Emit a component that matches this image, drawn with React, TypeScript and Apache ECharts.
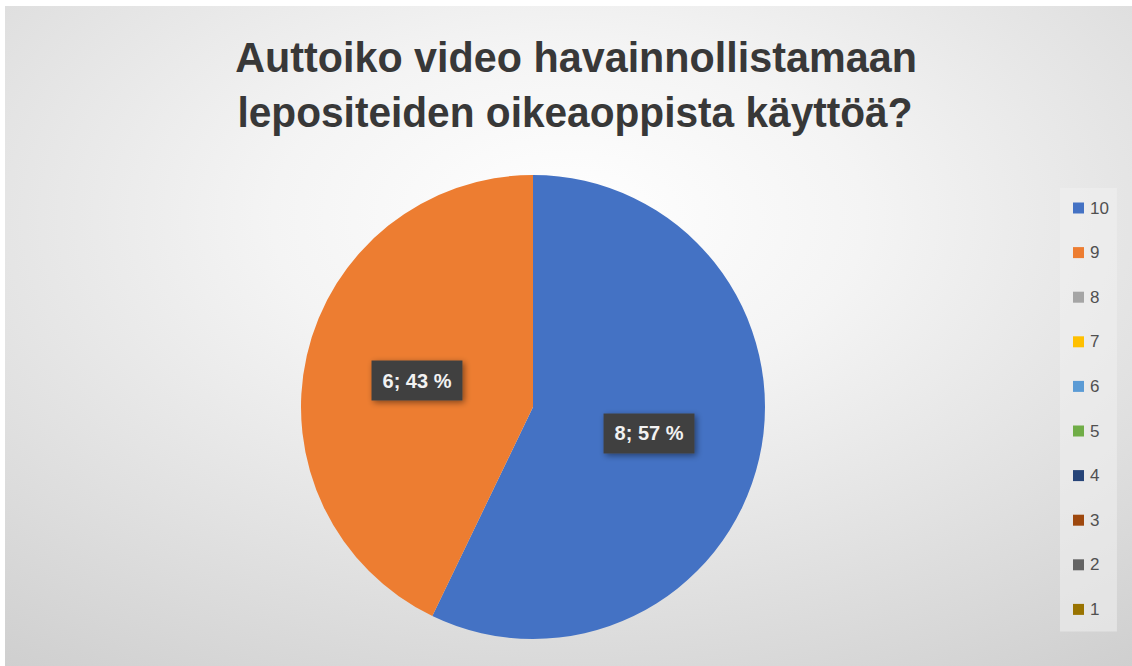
import React, { useEffect, useRef } from "react";
import * as echarts from "echarts";

const titleLines = ["Auttoiko video havainnollistamaan", "lepositeiden oikeaoppista käyttöä?"];
const categories = ["10", "9", "8", "7", "6", "5", "4", "3", "2", "1"];
const counts = [8, 6, 0, 0, 0, 0, 0, 0, 0, 0];
const sliceColors = ["#4472C4", "#ED7D31", "#A5A5A5", "#FFC000", "#5B9BD5", "#70AD47", "#264478", "#9E480E", "#636363", "#997300"];

const TITLE_FONT_SIZE = 43;
const TITLE_FONT = `bold ${TITLE_FONT_SIZE}px "Liberation Sans", Arial, sans-serif`;

function measure(text: string, font: string): number {
  const c = document.createElement("canvas");
  const ctx = c.getContext("2d");
  if (!ctx) return text.length * 20;
  ctx.font = font;
  return ctx.measureText(text).width;
}

export default function App() {
  const ref = useRef<HTMLDivElement>(null);

  useEffect(() => {
    if (!ref.current) return;
    const chart = echarts.init(ref.current, undefined, { renderer: "svg" });

    const targetWidths = [682, 675];
    const centersX = [576, 575];
    const baselinesY = [72, 127];

    const titleEls = titleLines.map((t, i) => {
      const w = measure(t, TITLE_FONT);
      const s = targetWidths[i] / w;
      return {
        type: "text",
        x: centersX[i],
        y: baselinesY[i] - TITLE_FONT_SIZE * 0.35,
        scaleX: s,
        z: 10,
        style: {
          text: t,
          font: TITLE_FONT,
          fill: "#383838",
          textAlign: "center",
          align: "center",
          textVerticalAlign: "middle",
          verticalAlign: "middle",
        },
      };
    });

    const data = categories.map((name, i) => ({
      name,
      value: counts[i],
      itemStyle: { color: sliceColors[i] },
      label: { show: counts[i] > 0 },
    }));

    chart.setOption({
      animation: false,
      backgroundColor: "#ffffff",
      color: sliceColors,
      graphic: [
        {
          type: "rect",
          x: 5,
          y: 6,
          z: -10,
          silent: true,
          shape: { x: 0, y: 0, width: 1127, height: 660 },
          style: {
            fill: {
              type: "radial",
              x: 0.5,
              y: 0.32,
              r: 1.05,
              colorStops: [
                { offset: 0, color: "#ffffff" },
                { offset: 0.25, color: "#f4f4f4" },
                { offset: 1, color: "#c2c2c2" },
              ],
            },
          },
        },
        ...titleEls,
      ],
      legend: {
        orient: "vertical",
        left: 1060,
        top: 188,
        padding: [11, 8, 13, 13],
        backgroundColor: "rgba(240,240,240,0.55)",
        icon: "rect",
        itemWidth: 11,
        itemHeight: 11,
        itemGap: 26.6,
        selectedMode: false,
        data: categories,
        textStyle: {
          fontFamily: "Liberation Sans, Arial, sans-serif",
          fontSize: 17,
          lineHeight: 18,
          color: "#505050",
          padding: [0, 0, 0, 1],
        },
      },
      series: [
        {
          type: "pie",
          center: [533, 407],
          radius: [0, 232],
          startAngle: 90,
          clockwise: true,
          avoidLabelOverlap: false,
          emphasis: { disabled: true },
          itemStyle: { borderWidth: 0 },
          label: {
            show: true,
            position: "inside",
            formatter: (p: any) => `${p.value}; ${Math.round(p.percent)} %`,
            fontFamily: "Liberation Sans, Arial, sans-serif",
            fontWeight: "bold",
            fontSize: 20,
            lineHeight: 20,
            color: "#f2f2f2",
            backgroundColor: "#404040",
            padding: [10, 11, 10, 11],
            shadowColor: "rgba(0,0,0,0.45)",
            shadowBlur: 6,
            shadowOffsetX: 2,
            shadowOffsetY: 2,
          },
          labelLine: { show: false },
          data,
        },
      ],
    });

    return () => chart.dispose();
  }, []);

  return (
    <div
      ref={ref}
      style={{ position: "fixed", left: 0, top: 0, width: 1132, height: 666, background: "#ffffff" }}
    />
  );
}
